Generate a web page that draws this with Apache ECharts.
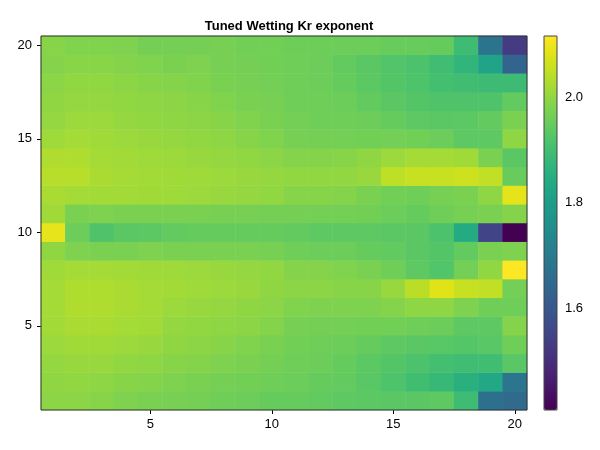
<!DOCTYPE html>
<html>
<head>
<meta charset="utf-8">
<script src="https://cdn.jsdelivr.net/npm/echarts@6/dist/echarts.min.js"></script>
<style>html,body{margin:0;padding:0;background:#fff}#c{width:600px;height:450px}</style>
</head>
<body>
<div id="c"></div>
<script>
// x categories (1..20) and y categories (1..20)
var xCats = ["1","2","3","4","5","6","7","8","9","10","11","12","13","14","15","16","17","18","19","20"];
var yCats = ["1","2","3","4","5","6","7","8","9","10","11","12","13","14","15","16","17","18","19","20"];
var xTickLabels = ["5","10","15","20"];
var yTickLabels = ["5","10","15","20"];
var colorbarTicks = [1.6, 1.8, 2.0];
var colorMin = 1.407, colorMax = 2.116;

// values per row (y = 1 .. 20), columns x = 1 .. 20
var row1  = [1.992,1.992,1.988,1.978,1.974,1.971,1.967,1.960,1.956,1.949,1.949,1.944,1.939,1.935,1.933,1.933,1.939,1.894,1.666,1.652];
var row2  = [1.998,1.999,1.996,1.988,1.985,1.978,1.974,1.967,1.964,1.960,1.956,1.949,1.944,1.932,1.916,1.898,1.882,1.854,1.832,1.684];
var row3  = [2.003,2.006,2.006,1.999,1.996,1.988,1.985,1.978,1.974,1.967,1.960,1.956,1.949,1.935,1.925,1.914,1.903,1.896,1.898,1.932];
var row4  = [2.010,2.015,2.015,2.010,2.006,1.998,1.992,1.988,1.981,1.974,1.964,1.960,1.956,1.949,1.939,1.933,1.930,1.927,1.932,1.960];
var row5  = [2.017,2.024,2.024,2.020,2.017,2.003,1.999,1.996,1.992,1.985,1.971,1.967,1.965,1.964,1.964,1.960,1.956,1.939,1.939,1.985];
var row6  = [2.020,2.030,2.030,2.024,2.020,2.010,2.006,2.003,1.998,1.992,1.981,1.978,1.978,1.978,1.985,1.996,1.996,1.978,1.960,1.960];
var row7  = [2.020,2.031,2.031,2.024,2.020,2.017,2.013,2.010,2.006,1.998,1.992,1.992,1.988,1.988,2.006,2.042,2.081,2.056,2.049,1.965];
var row8  = [2.015,2.020,2.020,2.017,2.015,2.013,2.010,2.006,2.003,1.999,1.985,1.985,1.981,1.974,1.960,1.939,1.922,1.965,1.999,2.116];
var row9  = [1.998,1.978,1.974,1.974,1.978,1.974,1.974,1.974,1.974,1.971,1.960,1.956,1.956,1.949,1.944,1.933,1.925,1.944,1.974,1.978];
var row10 = [2.091,1.956,1.919,1.933,1.935,1.944,1.949,1.949,1.949,1.949,1.944,1.939,1.939,1.939,1.933,1.933,1.914,1.840,1.549,1.407];
var row11 = [2.015,1.974,1.978,1.974,1.974,1.974,1.974,1.971,1.971,1.967,1.967,1.965,1.965,1.964,1.956,1.949,1.960,1.971,1.974,1.985];
var row12 = [2.024,2.020,2.017,2.017,2.015,2.013,2.010,2.006,2.003,1.999,1.988,1.988,1.985,1.974,1.964,1.960,1.971,1.974,1.996,2.088];
var row13 = [2.038,2.038,2.024,2.020,2.017,2.015,2.013,2.010,2.006,2.003,1.999,1.999,1.999,2.006,2.045,2.056,2.056,2.063,2.049,1.952];
var row14 = [2.030,2.031,2.020,2.017,2.013,2.010,2.006,2.003,1.999,1.992,1.985,1.985,1.988,1.998,2.010,2.020,2.020,2.015,1.974,1.933];
var row15 = [2.013,2.020,2.015,2.010,2.006,2.003,1.999,1.996,1.988,1.981,1.971,1.967,1.965,1.964,1.965,1.964,1.956,1.939,1.939,1.996];
var row16 = [2.003,2.010,2.010,2.003,1.999,1.996,1.992,1.988,1.981,1.974,1.965,1.960,1.960,1.956,1.949,1.939,1.933,1.935,1.944,1.974];
var row17 = [1.998,2.003,2.003,1.999,1.996,1.992,1.988,1.981,1.974,1.971,1.960,1.960,1.956,1.944,1.933,1.925,1.919,1.919,1.919,1.944];
var row18 = [1.992,1.999,1.999,1.992,1.988,1.985,1.981,1.974,1.971,1.965,1.960,1.956,1.949,1.935,1.925,1.916,1.903,1.898,1.891,1.891];
var row19 = [1.985,1.990,1.990,1.985,1.981,1.974,1.978,1.971,1.967,1.964,1.960,1.956,1.944,1.933,1.922,1.914,1.896,1.871,1.818,1.634];
var row20 = [1.988,1.981,1.981,1.978,1.967,1.967,1.967,1.970,1.964,1.964,1.958,1.958,1.956,1.956,1.952,1.952,1.949,1.894,1.676,1.528];

var rows = [row1,row2,row3,row4,row5,row6,row7,row8,row9,row10,row11,row12,row13,row14,row15,row16,row17,row18,row19,row20];

var viridis = ['#440154','#471365','#482475','#463480','#414487','#3b528b','#355f8d','#2f6c8e','#2a788e','#25848e','#21918c','#1e9c89','#22a884','#2fb47c','#44bf70','#5ec962','#7ad151','#9bd93c','#bddf26','#dfe318','#fde725'];

var data = [];
for (var j = 0; j < rows.length; j++) {
  for (var i = 0; i < rows[j].length; i++) {
    data.push([i, j, rows[j][i]]);
  }
}

function showX(idx, val) { return xTickLabels.indexOf(val) >= 0; }
function showY(idx, val) { return yTickLabels.indexOf(val) >= 0; }

var font = 'Liberation Sans, Arial, Helvetica, sans-serif';
var chart = echarts.init(document.getElementById('c'), null, {renderer: 'canvas'});
chart.setOption({
  animation: false,
  backgroundColor: '#ffffff',
  title: {
    text: 'Tuned Wetting Kr exponent',
    left: 284, top: 15, textAlign: 'center',
    textStyle: {fontFamily: font, fontSize: 13, fontWeight: 'bold', color: '#000'}
  },
  grid: [
    {left: 41, top: 36, width: 486, height: 374, show: true, borderColor: '#333', borderWidth: 1, backgroundColor: 'transparent', z: 10},
    {left: 544, top: 36, width: 13, height: 374, show: true, borderColor: '#444', borderWidth: 1, backgroundColor: 'transparent', z: 10}
  ],
  xAxis: [
    {
      type: 'category', data: xCats, gridIndex: 0,
      axisLine: {show: false},
      axisTick: {show: true, alignWithLabel: true, interval: showX, length: 4, lineStyle: {color: '#000'}},
      axisLabel: {interval: showX, margin: 8, fontFamily: font, fontSize: 13, color: '#000'},
      splitLine: {show: false}
    },
    {type: 'value', gridIndex: 1, min: 0, max: 1, show: false}
  ],
  yAxis: [
    {
      type: 'category', data: yCats, gridIndex: 0,
      axisLine: {show: false},
      axisTick: {show: true, alignWithLabel: true, interval: showY, length: 4, lineStyle: {color: '#000'}},
      axisLabel: {interval: showY, margin: 9, fontFamily: font, fontSize: 13, color: '#000'},
      splitLine: {show: false}
    },
    {
      type: 'value', gridIndex: 1, position: 'right', min: colorMin, max: colorMax,
      axisLine: {show: false},
      axisTick: {show: true, customValues: colorbarTicks, length: 4, lineStyle: {color: '#000'}},
      axisLabel: {customValues: colorbarTicks, margin: 8, fontFamily: font, fontSize: 13, color: '#000',
        formatter: function (v) { return v.toFixed(1); }},
      splitLine: {show: false}
    }
  ],
  visualMap: {
    type: 'continuous', seriesIndex: 0, min: colorMin, max: colorMax,
    calculable: false, hoverLink: false, orient: 'vertical',
    left: 544, top: 36, itemWidth: 13, itemHeight: 374, padding: 0,
    inRange: {color: viridis},
    text: null
  },
  series: [{
    type: 'heatmap', xAxisIndex: 0, yAxisIndex: 0, data: data,
    itemStyle: {borderWidth: 0},
    emphasis: {disabled: true},
    progressive: 0
  }]
});
</script>
</body>
</html>
